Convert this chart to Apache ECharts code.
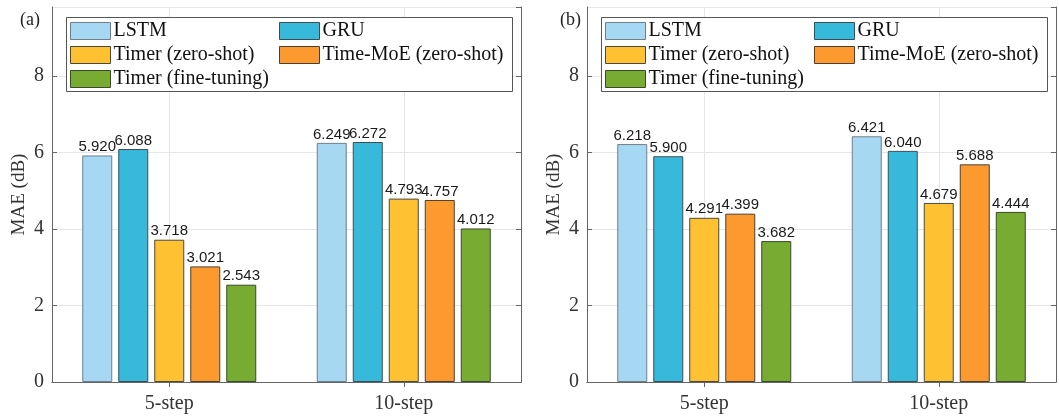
<!DOCTYPE html>
<html>
<head>
<meta charset="utf-8">
<script src="https://cdn.jsdelivr.net/npm/echarts@6/dist/echarts.min.js"></script>
<style>
  html, body { margin: 0; padding: 0; background: #fff; }
  #chart { width: 1059px; height: 417px; }
</style>
</head>
<body>
<div id="chart"></div>
<script>
  // data
  var categories = ['5-step', '10-step']
  var seriesNames = ['LSTM', 'GRU', 'Timer (zero-shot)', 'Time-MoE (zero-shot)', 'Timer (fine-tuning)']
  var panelA = [
    [5.920, 6.249],
    [6.088, 6.272],
    [3.718, 4.793],
    [3.021, 4.757],
    [2.543, 4.012]
  ]
  var panelB = [
    [6.218, 6.421],
    [5.900, 6.040],
    [4.291, 4.679],
    [4.399, 5.688],
    [3.682, 4.444]
  ]
  var yTicks = [0, 2, 4, 6, 8]

  var colors = ['#A7D8F3', '#37B9DC', '#FDC132', '#FC9A30', '#78AB31']
  var edges = ['#6f7f88', '#3c4d55', '#4a4a40', '#4a4035', '#3a4a2a']
  var serif = 'Liberation Serif'
  var axisCol = '#666'
  var gridCol = '#e6e6e6'

  var grids = [
    { left: 52, right: 1059 - 521, top: 7, bottom: 35 },
    { left: 587, right: 1059 - 1056, top: 7, bottom: 35 }
  ]
  // legend box origin for each panel, items laid out in a 2-column grid
  var legendBox = [{ x: 66, y: 17 }, { x: 601, y: 17 }]

  var xAxes = [], yAxes = [], series = [], legends = [], graphics = []
  grids.forEach(function (g, gi) {
    // bottom axis with labels
    xAxes.push({
      type: 'category', gridIndex: gi, data: categories, position: 'bottom',
      axisLine: { lineStyle: { color: axisCol, width: 1 } },
      axisTick: { show: true, inside: true, alignWithLabel: true, length: 5, lineStyle: { color: axisCol } },
      axisLabel: { fontFamily: serif, fontSize: 20, color: '#333', margin: 12 },
      splitLine: { show: false }
    })
    // top box edge
    xAxes.push({
      type: 'category', gridIndex: gi, data: categories, position: 'top',
      axisLine: { show: true, lineStyle: { color: axisCol, width: 1 } },
      axisTick: { show: true, inside: true, alignWithLabel: true, length: 5, lineStyle: { color: axisCol } },
      axisLabel: { show: false }
    })
    // hidden helper axis, only for the vertical grid lines at the category centres
    xAxes.push({
      type: 'category', gridIndex: gi, data: ['0', '1', '2', '3', '4'], boundaryGap: false,
      position: 'bottom', show: true,
      axisLine: { show: false }, axisTick: { show: false }, axisLabel: { show: false },
      splitLine: {
        show: true, lineStyle: { color: gridCol, width: 1 },
        interval: function (i) { return i === 1 || i === 3 }
      }
    })
    yAxes.push({
      type: 'value', gridIndex: gi, min: 0, max: 9.8, interval: 2, position: 'left',
      name: 'MAE (dB)', nameLocation: 'middle', nameGap: 23, nameRotate: 90,
      nameTextStyle: { fontFamily: serif, fontSize: 19, color: '#333' },
      axisLine: { show: true, lineStyle: { color: axisCol, width: 1 } },
      axisTick: { show: true, inside: true, length: 5, lineStyle: { color: axisCol } },
      axisLabel: {
        fontFamily: serif, fontSize: 20, color: '#333', margin: 8, showMaxLabel: false,
        formatter: function (v) { return yTicks.indexOf(v) >= 0 ? String(v) : '' }
      },
      splitLine: { show: true, lineStyle: { color: gridCol, width: 1 } }
    })
    yAxes.push({
      type: 'value', gridIndex: gi, min: 0, max: 9.8, interval: 2, position: 'right',
      axisLine: { show: true, lineStyle: { color: axisCol, width: 1 } },
      axisTick: { show: true, inside: true, length: 5, lineStyle: { color: axisCol } },
      axisLabel: { show: false },
      splitLine: { show: false }
    })

    var values = gi === 0 ? panelA : panelB
    seriesNames.forEach(function (name, si) {
      series.push({
        name: name, type: 'bar',
        xAxisIndex: gi * 3, yAxisIndex: gi * 2,
        data: values[si],
        barWidth: 30, barGap: '20%',
        itemStyle: { color: colors[si], borderColor: edges[si], borderWidth: 1 },
        label: {
          show: true, position: 'top', distance: 1,
          fontFamily: 'Liberation Sans', fontSize: 15, color: '#1a1a1a',
          formatter: function (p) { return p.value.toFixed(3) }
        },
        z: 3
      })
    })

    // legend frame
    var b = legendBox[gi]
    graphics.push({
      type: 'rect', z: 4, silent: true,
      shape: { x: b.x + 0.5, y: b.y + 0.5, width: 446, height: 74 },
      style: { fill: '#fff', stroke: '#555', lineWidth: 1 }
    })
    // one legend per entry so the two columns line up
    seriesNames.forEach(function (name, si) {
      legends.push({
        data: [name],
        left: b.x + 4 + (si % 2) * 209,
        top: b.y + 4 + Math.floor(si / 2) * 24,
        padding: 0, z: 6,
        itemWidth: 40, itemHeight: 17,
        selectedMode: false,
        icon: 'rect',
        itemStyle: { borderWidth: 1 },
        textStyle: { fontFamily: serif, fontSize: 20, color: '#111', padding: [0, 0, 0, -2] }
      })
    })
  })

  var chart = echarts.init(document.getElementById('chart'), null, { renderer: 'canvas' })
  chart.setOption({
    animation: false,
    backgroundColor: '#fff',
    color: colors,
    title: [
      { text: '(a)', left: 15, top: 6, textStyle: { fontFamily: serif, fontSize: 18, fontWeight: 'normal', color: '#222' } },
      { text: '(b)', left: 555, top: 6, textStyle: { fontFamily: serif, fontSize: 18, fontWeight: 'normal', color: '#222' } }
    ],
    grid: grids,
    xAxis: xAxes,
    yAxis: yAxes,
    legend: legends,
    graphic: graphics,
    series: series
  })
</script>
</body>
</html>
